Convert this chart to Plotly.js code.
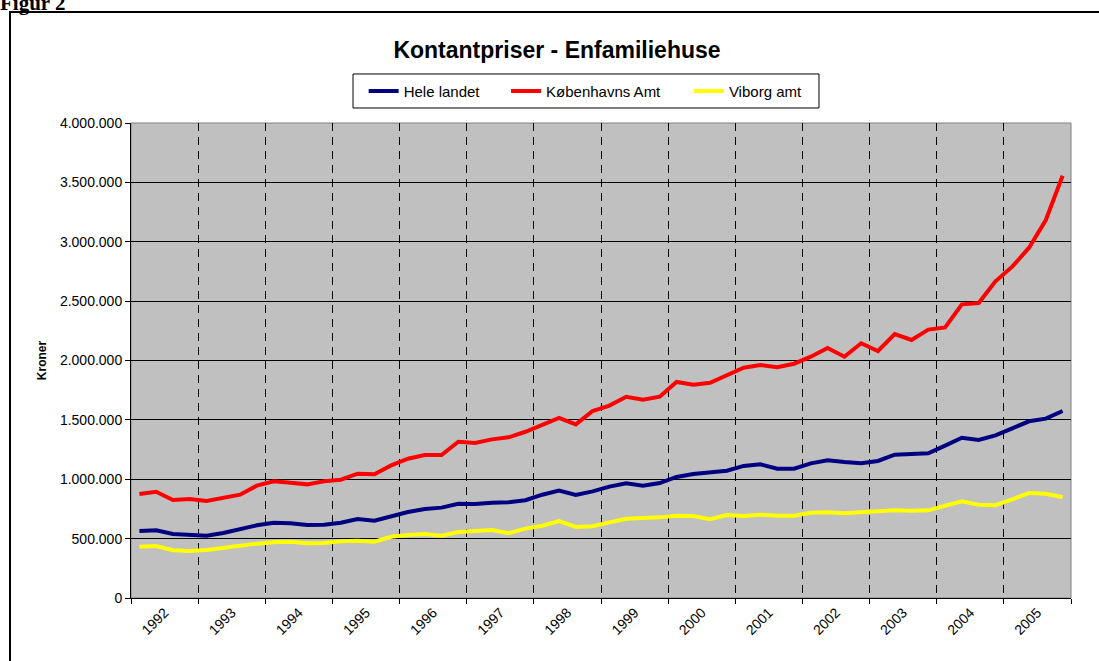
<!DOCTYPE html>
<html>
<head>
<meta charset="utf-8">
<script src="https://cdn.plot.ly/plotly-3.0.1.min.js"></script>
<style>
  body { margin: 0; background: #fff; overflow: hidden; }
  #chart { position: absolute; left: 0; top: 0; width: 1099px; height: 661px; }
  #frame { position: absolute; left: 9px; top: 11px; width: 1200px; height: 800px;
           border: 2px solid #000; pointer-events: none; }
  #figur { position: absolute; left: 0px; top: -9px; font: bold 21px "Liberation Serif", serif; line-height: 24px; }
</style>
</head>
<body>
<div id="chart"></div>
<div id="frame"></div>
<div id="figur">Figur 2</div>
<script>
// kvartalsvise kontantpriser 1992-2005 (kr.)
const years = [1992, 1993, 1994, 1995, 1996, 1997, 1998, 1999, 2000, 2001, 2002, 2003, 2004, 2005];

const heleLandet = [
  564000, 570000, 539000, 530000, 525000, 547000, 578000, 612000,
  634000, 629000, 615000, 617000, 634000, 665000, 651000, 691000,
  724000, 749000, 761000, 794000, 792000, 803000, 806000, 823000,
  870000, 904000, 867000, 898000, 938000, 966000, 946000, 968000,
  1019000, 1044000, 1061000, 1072000, 1112000, 1126000, 1089000, 1089000,
  1134000, 1160000, 1145000, 1134000, 1154000, 1207000, 1213000, 1218000,
  1283000, 1350000, 1331000, 1370000, 1429000, 1488000, 1510000, 1575000
];

const koebenhavnsAmt = [
  876000, 895000, 825000, 834000, 817000, 842000, 870000, 946000,
  983000, 971000, 957000, 983000, 996000, 1047000, 1042000, 1117000,
  1173000, 1204000, 1204000, 1316000, 1305000, 1336000, 1353000, 1400000,
  1457000, 1516000, 1462000, 1575000, 1620000, 1695000, 1670000, 1695000,
  1819000, 1796000, 1813000, 1880000, 1939000, 1962000, 1943000, 1973000,
  2032000, 2105000, 2032000, 2145000, 2080000, 2223000, 2173000, 2260000,
  2279000, 2473000, 2484000, 2667000, 2790000, 2950000, 3183000, 3556000
];

const viborgAmt = [
  432000, 438000, 402000, 396000, 404000, 424000, 438000, 457000,
  469000, 474000, 461000, 463000, 477000, 483000, 474000, 516000,
  531000, 539000, 525000, 556000, 564000, 573000, 545000, 584000,
  609000, 648000, 598000, 604000, 637000, 668000, 674000, 679000,
  693000, 691000, 663000, 699000, 691000, 702000, 693000, 693000,
  718000, 722000, 713000, 722000, 733000, 738000, 735000, 738000,
  777000, 814000, 786000, 781000, 831000, 884000, 878000, 848000
];

const seriesNames = ["Hele landet", "Københavns Amt", "Viborg amt"];
const seriesColors = ["#000080", "#FF0000", "#FFFF00"];

const font = "Liberation Sans, Arial, sans-serif";
const quarters = heleLandet.map((v, i) => i);

// aarstal midt i hvert aar, stiplede linjer mellem aarene
const yearMid = years.map((y, i) => i * 4 + 1.5);
const yearEdges = years.map((y, i) => i * 4 - 0.5).concat([years.length * 4 - 0.5]);

const traces = [heleLandet, koebenhavnsAmt, viborgAmt].map((vals, k) => ({
  type: 'scatter',
  mode: 'lines',
  name: seriesNames[k],
  x: quarters,
  y: vals,
  line: { color: seriesColors[k], width: 4 },
  legend: k === 0 ? 'legend' : 'legend' + (k + 1),
  hoverinfo: 'skip'
}));

const legendBase = {
  orientation: 'h',
  bgcolor: 'rgba(0,0,0,0)',
  borderwidth: 0,
  font: { family: font, size: 15, color: '#000' },
  xanchor: 'left',
  yanchor: 'middle',
  y: 1.067
};

const layout = {
  width: 1099,
  height: 661,
  margin: { l: 131, r: 28, t: 123, b: 63 },
  paper_bgcolor: 'rgba(0,0,0,0)',
  plot_bgcolor: '#C0C0C0',
  separators: ',.',
  title: {
    text: 'Kontantpriser - Enfamiliehuse',
    font: { family: font, size: 23, color: '#000', weight: 'bold' },
    x: 557 / 1099, xref: 'container', xanchor: 'center',
    y: 1 - 50 / 661, yref: 'container', yanchor: 'middle'
  },
  showlegend: true,
  legend: Object.assign({}, legendBase, { x: 0.2475 }),
  legend2: Object.assign({}, legendBase, { x: 0.3990 }),
  legend3: Object.assign({}, legendBase, { x: 0.5935 }),
  xaxis: {
    range: [-0.5, quarters.length - 0.5],
    tickmode: 'array',
    tickvals: yearMid,
    ticktext: years.map(String),
    tickangle: -45,
    ticks: '',
    showgrid: false,
    zeroline: false,
    showline: true,
    linecolor: '#000',
    linewidth: 1,
    tickfont: { family: font, size: 14, color: '#000' },
    minor: {
      tickmode: 'array',
      tickvals: yearEdges,
      ticks: 'outside',
      ticklen: 5,
      tickcolor: '#000',
      showgrid: true,
      gridcolor: '#000',
      gridwidth: 1,
      griddash: '8px,6px'
    },
    automargin: false
  },
  yaxis: {
    range: [0, 4000000],
    tickmode: 'linear',
    tick0: 0,
    dtick: 500000,
    tickformat: ',d',
    ticks: 'outside',
    ticklen: 5,
    tickcolor: '#000',
    showgrid: true,
    gridcolor: '#000',
    gridwidth: 1,
    zeroline: false,
    showline: true,
    linecolor: '#000',
    linewidth: 1,
    tickfont: { family: font, size: 14, color: '#000' },
    title: {
      text: 'Kroner',
      font: { family: font, size: 12, color: '#000', weight: 'bold' },
      standoff: 10
    },
    automargin: false
  },
  shapes: [
    // ramme om plotomraadet
    { type: 'rect', xref: 'paper', yref: 'paper', x0: 0, x1: 1, y0: 0, y1: 1,
      line: { color: '#808080', width: 1 }, layer: 'below' },
    // ramme om signaturforklaringen
    { type: 'rect', xref: 'paper', yref: 'paper', x0: 0.2362, x1: 0.7319, y0: 1.0316, y1: 1.1032,
      line: { color: '#000', width: 1 }, fillcolor: '#fff', layer: 'below' }
  ]
};

Plotly.newPlot('chart', traces, layout, { displayModeBar: false, staticPlot: true });
</script>
</body>
</html>
